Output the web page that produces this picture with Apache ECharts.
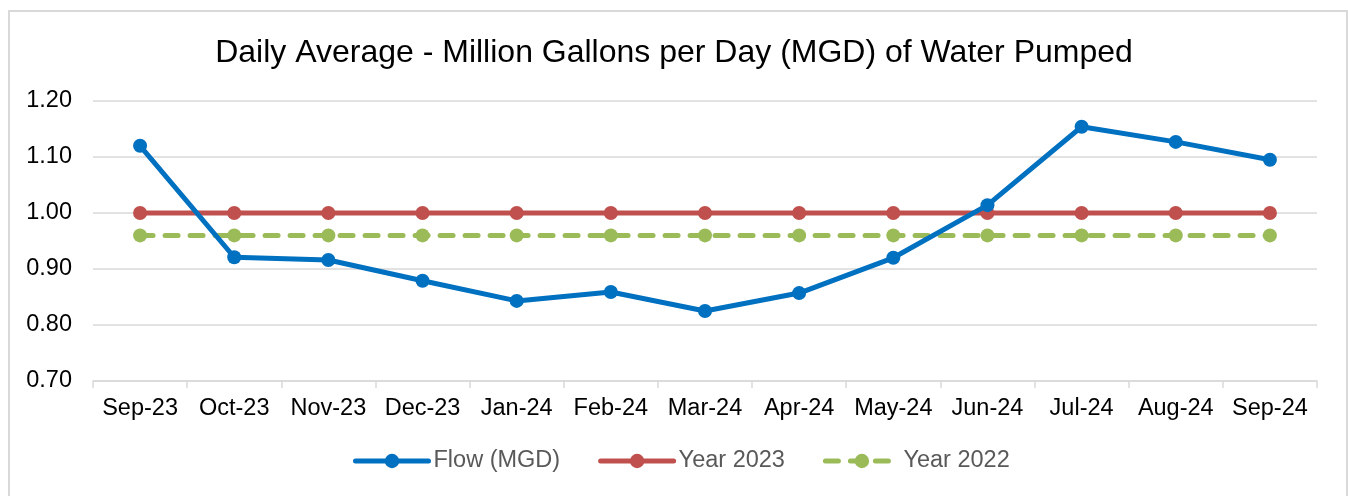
<!DOCTYPE html>
<html>
<head>
<meta charset="utf-8">
<script src="https://cdn.jsdelivr.net/npm/echarts@6/dist/echarts.min.js"></script>
<style>
html,body{margin:0;padding:0;background:#fff;}
#chart{width:1348px;height:496px;}
</style>
</head>
<body>
<div id="chart"></div>
<script>
const categories = ['Sep-23','Oct-23','Nov-23','Dec-23','Jan-24','Feb-24','Mar-24','Apr-24','May-24','Jun-24','Jul-24','Aug-24','Sep-24'];
const flowMGD = [1.120, 0.921, 0.916, 0.879, 0.843, 0.859, 0.825, 0.857, 0.920, 1.014, 1.154, 1.127, 1.095];
const year2023 = [1.00, 1.00, 1.00, 1.00, 1.00, 1.00, 1.00, 1.00, 1.00, 1.00, 1.00, 1.00, 1.00];
const year2022 = [0.96, 0.96, 0.96, 0.96, 0.96, 0.96, 0.96, 0.96, 0.96, 0.96, 0.96, 0.96, 0.96];
const titleText = 'Daily Average - Million Gallons per Day (MGD) of Water Pumped';

const font = '"Liberation Sans", Arial, sans-serif';
const chart = echarts.init(document.getElementById('chart'), null, {renderer:'canvas'});
chart.setOption({
  animation: false,
  backgroundColor: '#fff',
  graphic: [{
    type: 'rect', left: 8, top: 10, z: -1,
    shape: {x: 0, y: 0, width: 1338, height: 500},
    style: {fill: '#fff', stroke: '#d9d9d9', lineWidth: 2}
  }],
  title: {
    text: titleText, left: 'center', top: 32,
    textStyle: {fontFamily: font, fontSize: 32, fontWeight: 'normal', color: '#000'}
  },
  grid: {left: 93, right: 31, top: 101, bottom: 115, containLabel: false},
  legend: {
    top: 444, left: 348, itemWidth: 73, itemHeight: 18, itemGap: 38,
    lineStyle: {width: 5, cap: 'round'},
    textStyle: {fontFamily: font, fontSize: 23.5, color: '#595959'},
    data: ['Flow (MGD)','Year 2023','Year 2022']
  },
  xAxis: {
    type: 'category', data: categories, boundaryGap: true,
    axisLine: {lineStyle: {color: '#d9d9d9', width: 1.5}},
    axisTick: {show: true, length: 7, lineStyle: {color: '#d9d9d9', width: 1.5}},
    axisLabel: {fontFamily: font, fontSize: 23.5, color: '#000', margin: 16, interval: 0}
  },
  yAxis: {
    type: 'value', min: 0.70, max: 1.20, interval: 0.10,
    axisLine: {show: false}, axisTick: {show: false},
    splitLine: {lineStyle: {color: '#d9d9d9', width: 1.5}},
    axisLabel: {fontFamily: font, fontSize: 23.5, color: '#000', margin: 21, padding: [3, 0, 0, 0], formatter: v => v.toFixed(2)}
  },
  series: [
    {name: 'Flow (MGD)', type: 'line', data: flowMGD, symbol: 'circle', symbolSize: 14, z: 4,
     lineStyle: {color: '#0070C0', width: 5}, itemStyle: {color: '#0070C0'}},
    {name: 'Year 2023', type: 'line', data: year2023, symbol: 'circle', symbolSize: 14, z: 3,
     lineStyle: {color: '#C0504D', width: 5}, itemStyle: {color: '#C0504D'}},
    {name: 'Year 2022', type: 'line', data: year2022, symbol: 'circle', symbolSize: 14, z: 2,
     lineStyle: {color: '#9BBB59', width: 5, type: [13, 12], cap: 'round'}, itemStyle: {color: '#9BBB59'}}
  ]
});
</script>
</body>
</html>
